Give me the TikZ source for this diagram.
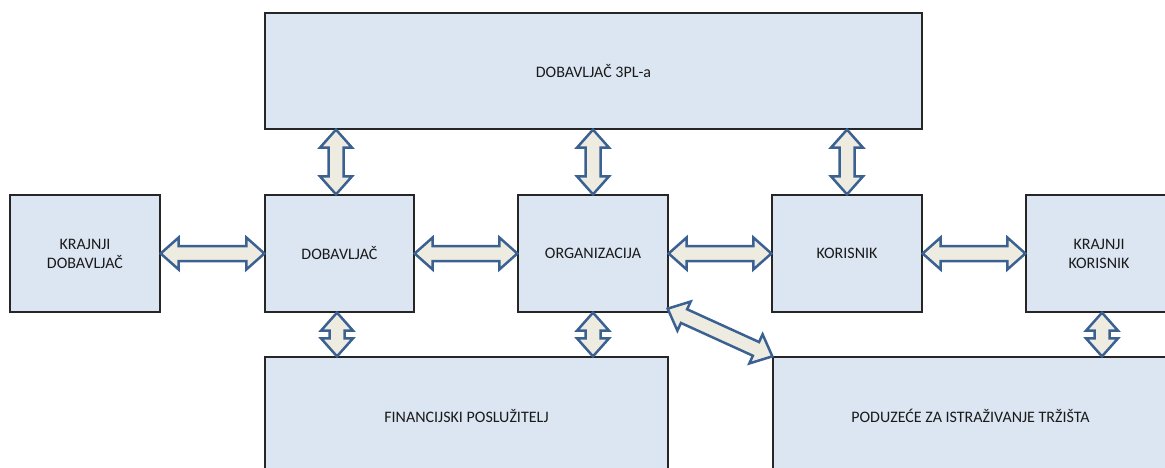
\documentclass[tikz,border=0pt]{standalone}
\usepackage{fontspec}
\setmainfont{Carlito}
\usetikzlibrary{calc}
\definecolor{boxfill}{HTML}{DCE6F2}
\definecolor{arrfill}{HTML}{EEECE1}
\definecolor{arrline}{HTML}{3A6191}
\definecolor{txt}{HTML}{1A1A1A}
\tikzset{
  box/.style={draw=black!85, line width=1.3pt, fill=boxfill, text=txt, align=center,
    font=\fontsize{16}{19}\selectfont, inner sep=0pt},
  blockarrow/.style={draw=arrline, fill=arrfill, line width=2.5pt, line join=miter, miter limit=10}
}
\newcommand\hl{18pt}
\newcommand\hw{16pt}
\newcommand\sw{7.5pt}
\newcommand\dbl[2]{%
  \coordinate (dA) at (#1); \coordinate (dB) at (#2);
  \coordinate (hA) at ($(dA)!\hl!(dB)$);
  \coordinate (hB) at ($(dB)!\hl!(dA)$);
  \draw[blockarrow] (dA) -- ($(hA)!\hw!90:(dB)$) -- ($(hA)!\sw!90:(dB)$)
    -- ($(hB)!\sw!-90:(dA)$) -- ($(hB)!\hw!-90:(dA)$) -- (dB)
    -- ($(hB)!\hw!90:(dA)$) -- ($(hB)!\sw!90:(dA)$)
    -- ($(hA)!\sw!-90:(dB)$) -- ($(hA)!\hw!-90:(dB)$) -- cycle;
}
\begin{document}
\begin{tikzpicture}[x=1pt,y=-1pt]
\useasboundingbox (0,0) rectangle (1165,468);
\clip (0,0) rectangle (1165,468);
\node[box, minimum width=657, minimum height=116] (tpl) at (593.5,71) {DOBAVLJAČ 3PL-a};
\node[box, minimum width=150, minimum height=117] (kd) at (85,253.5) {KRAJNJI\\DOBAVLJAČ};
\node[box, minimum width=149, minimum height=117] (dob) at (339.5,253.5) {DOBAVLJAČ};
\node[box, minimum width=150, minimum height=117] (org) at (593,253.5) {ORGANIZACIJA};
\node[box, minimum width=150, minimum height=117] (kor) at (847,253.5) {KORISNIK};
\node[box, minimum width=146, minimum height=117] (kk) at (1099,253.5) {KRAJNJI\\KORISNIK};
\node[box, minimum width=403, minimum height=118] (fin) at (466.5,416) {FINANCIJSKI POSLUŽITELJ};
\node[box, minimum width=395, minimum height=118] (pod) at (970.5,416) {PODUZEĆE ZA ISTRAŽIVANJE TRŽIŠTA};
% horizontal
\dbl{kd.east}{dob.west}
\dbl{dob.east}{org.west}
\dbl{org.east}{kor.west}
\dbl{kor.east}{kk.west}
% vertical top
\dbl{[xshift=-3.5pt]dob.north}{[xshift=-3.5pt]dob.north |- tpl.south}
\dbl{org.north}{org.north |- tpl.south}
\dbl{kor.north}{kor.north |- tpl.south}
% vertical bottom
\dbl{[xshift=-2.5pt]dob.south}{[xshift=-2.5pt]dob.south |- fin.north}
\dbl{org.south}{org.south |- fin.north}
\dbl{[xshift=3pt]kk.south}{[xshift=3pt]kk.south |- pod.north}
% diagonal
\dbl{[shift={(-1,-4)}]org.south east}{pod.north west}
\end{tikzpicture}
\end{document}
